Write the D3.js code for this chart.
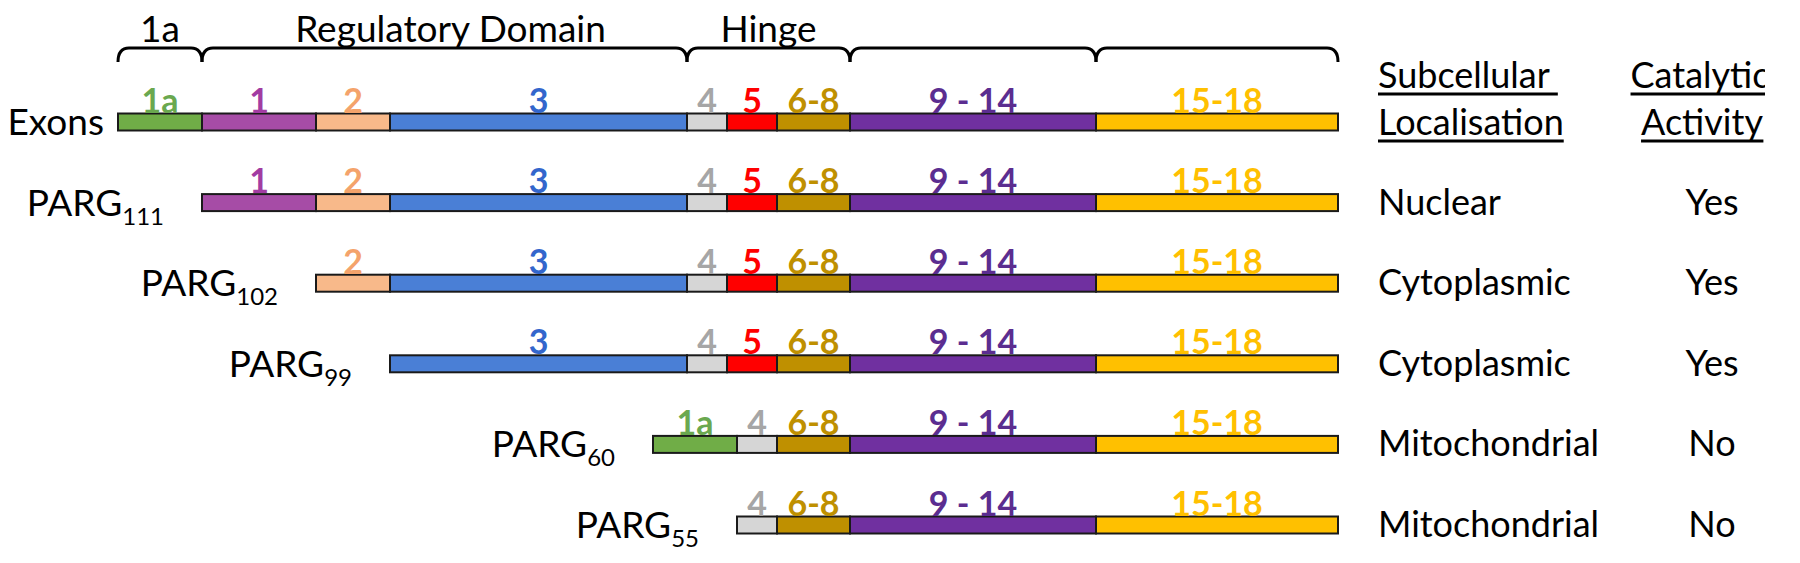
<!DOCTYPE html>
<html>
<head>
<meta charset="utf-8">
<script src="https://cdn.jsdelivr.net/npm/d3@7"></script>
<style>
  body { margin: 0; background: #fff; }
  text { font-family: Lato, "Open Sans", sans-serif; }
</style>
</head>
<body>
<div id="chart"></div>
<script>
// exons in gene order, with their relative drawn lengths
const exonNames = ["1a", "1", "2", "3", "4", "5", "6-8", "9 - 14", "15-18"];
const exonLengths = [84, 114, 74, 297, 40, 50, 73, 246, 242];
const exonFill = ["#70ad47", "#a64ca6", "#f8b98a", "#4a7fd6", "#d6d6d6", "#ff0000", "#bf9000", "#7030a0", "#ffc000"];
const exonText = ["#6aa84f", "#a23ca2", "#f4a36b", "#3366cc", "#a6a6a6", "#ff0000", "#bf9000", "#5b2d90", "#ffc000"];

// rows: transcript name, subscript, exons present
const rowNames = ["Exons", "PARG", "PARG", "PARG", "PARG", "PARG"];
const rowSubs = ["", "111", "102", "99", "60", "55"];
const rowExons = [
    ["1a", "1", "2", "3", "4", "5", "6-8", "9 - 14", "15-18"],
    ["1", "2", "3", "4", "5", "6-8", "9 - 14", "15-18"],
    ["2", "3", "4", "5", "6-8", "9 - 14", "15-18"],
    ["3", "4", "5", "6-8", "9 - 14", "15-18"],
    ["1a", "4", "6-8", "9 - 14", "15-18"],
    ["4", "6-8", "9 - 14", "15-18"]
];
const localisation = ["", "Nuclear", "Cytoplasmic", "Cytoplasmic", "Mitochondrial", "Mitochondrial"];
const activity = ["", "Yes", "Yes", "Yes", "No", "No"];

// domain braces over the exon row
const domainLabels = ["1a", "Regulatory Domain", "Hinge", "", ""];
const domainFirst = ["1a", "1", "4", "9 - 14", "15-18"];
const domainLast = ["1a", "3", "6-8", "9 - 14", "15-18"];

const width = 1800, height = 563;
const barH = 17;

const svg = d3.select("#chart").append("svg")
    .attr("width", width)
    .attr("height", height);

const total = d3.sum(exonLengths);
const x = d3.scaleLinear().domain([0, total]).range([118, 1338]);
const y = d3.scalePoint().domain(d3.range(rowNames.length)).range([122, 525]);

const lenOf = name => exonLengths[exonNames.indexOf(name)];

// lay out each row from the right end, so shared exons stay aligned
const rows = rowNames.map((name, i) => {
    let end = total;
    const segs = rowExons[i].slice().reverse().map(e => {
        const s = { name: e, start: end - lenOf(e), end: end };
        end = s.start;
        return s;
    }).reverse();
    return { name: name, sub: rowSubs[i], loc: localisation[i], act: activity[i], idx: i, segs: segs };
});

// braces
const exonRow = rows[0].segs;
const braceTop = 48, braceBot = 62, r = 11;
domainLabels.forEach((lab, i) => {
    const x0 = x(exonRow.find(s => s.name === domainFirst[i]).start);
    const x1 = x(exonRow.find(s => s.name === domainLast[i]).end);
    svg.append("path")
        .attr("d", `M${x0},${braceBot} Q${x0},${braceTop} ${x0 + r},${braceTop} L${x1 - r},${braceTop} Q${x1},${braceTop} ${x1},${braceBot}`)
        .attr("fill", "none")
        .attr("stroke", "#000")
        .attr("stroke-width", 3);
    if (lab) {
        svg.append("text")
            .attr("x", (x0 + x1) / 2 + (i === 1 ? 6 : 0))
            .attr("y", 42)
            .attr("text-anchor", "middle")
            .style("font-size", "37px")
            .style("fill", "#000")
            .text(lab);
    }
});

const rowG = svg.selectAll("g.row").data(rows).enter()
    .append("g")
    .attr("class", "row")
    .attr("transform", d => `translate(0,${y(d.idx)})`);

// exon bars
rowG.selectAll("rect").data(d => d.segs).enter()
    .append("rect")
    .attr("x", d => x(d.start))
    .attr("y", -barH / 2)
    .attr("width", d => x(d.end) - x(d.start))
    .attr("height", barH)
    .style("fill", d => exonFill[exonNames.indexOf(d.name)])
    .style("stroke", "#1a1a1a")
    .style("stroke-width", 2);

// exon labels
rowG.selectAll("text.exon").data(d => d.segs).enter()
    .append("text")
    .attr("class", "exon")
    .attr("x", d => (x(d.start) + x(d.end)) / 2)
    .attr("y", -barH / 2 - 1)
    .attr("text-anchor", "middle")
    .style("font-size", "34px")
    .style("font-weight", "bold")
    .style("fill", d => exonText[exonNames.indexOf(d.name)])
    .text(d => d.name);

// row names
const rowLab = rowG.append("text")
    .attr("x", d => x(d.segs[0].start) - (d.sub ? 38 : 14))
    .attr("y", 13)
    .attr("text-anchor", "end")
    .style("font-size", "37px")
    .style("fill", "#000");
rowLab.append("tspan").text(d => d.name);
rowLab.append("tspan")
    .attr("dy", 9)
    .style("font-size", "24px")
    .text(d => d.sub);

// right columns
rowG.append("text")
    .attr("x", 1378)
    .attr("y", 12)
    .style("font-size", "36px")
    .style("fill", "#000")
    .text(d => d.loc);

rowG.append("text")
    .attr("x", 1712)
    .attr("y", 12)
    .attr("text-anchor", "middle")
    .style("font-size", "36px")
    .style("fill", "#000")
    .text(d => d.act);

// headers, the right column is cut off at the figure edge
svg.append("clipPath").attr("id", "clipR")
    .append("rect").attr("x", 0).attr("y", 0).attr("width", 1765).attr("height", height);

const head = svg.append("g").attr("clip-path", "url(#clipR)");
const headers = [
    { t: "Subcellular", x: 1378, y: 88, anchor: "start" },
    { t: "Localisation", x: 1378, y: 135, anchor: "start" },
    { t: "Catalytic", x: 1700, y: 88, anchor: "middle" },
    { t: "Activity", x: 1702, y: 135, anchor: "middle" }
];
headers.forEach(h => {
    const t = head.append("text")
        .attr("x", h.x)
        .attr("y", h.y)
        .attr("text-anchor", h.anchor)
        .style("font-size", "36px")
        .style("fill", "#000")
        .text(h.t);
    const bb = t.node().getBBox();
    head.append("line")
        .attr("x1", bb.x)
        .attr("x2", h.t === "Subcellular" ? bb.x + bb.width + 8 : bb.x + bb.width)
        .attr("y1", h.y + 6)
        .attr("y2", h.y + 6)
        .attr("stroke", "#000")
        .attr("stroke-width", 3);
});
</script>
</body>
</html>
